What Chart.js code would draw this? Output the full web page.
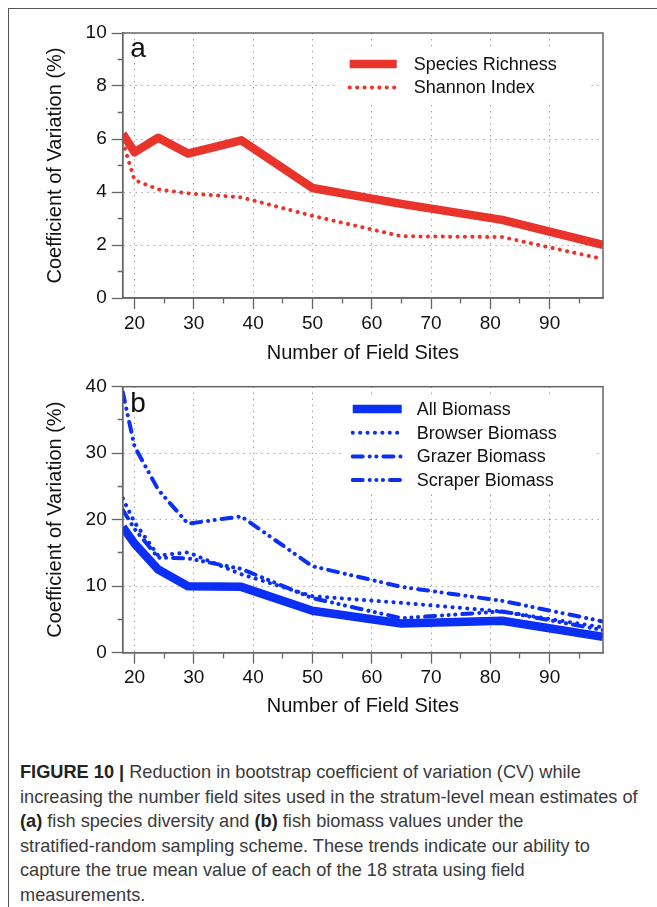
<!DOCTYPE html>
<html lang="en">
<head>
<meta charset="UTF-8">
<title>Figure 10 - bootstrap CV vs number of field sites</title>
<script src="https://cdn.jsdelivr.net/npm/chart.js@4"></script>
<style>
  * { box-sizing: border-box; margin: 0; padding: 0; }
  html, body { width: 657px; height: 907px; background: #fff; overflow: hidden; }
  body { position: relative; font-family: "Liberation Sans", Arial, sans-serif; }
  .frame { position: absolute; left: 8px; top: 8px; width: 700px; height: 960px;
           border-top: 1.5px solid #555; border-left: 1.5px solid #555; }
  .panel { position: absolute; left: 0; width: 657px; }
  #panelA { top: 0; height: 375px; }
  #panelB { top: 360px; height: 380px; }
  .caption { position: absolute; left: 20px; top: 760px; width: 640px;
             font-size: 18.2px; line-height: 24.6px; color: #3a3a3a; white-space: nowrap; }
  .caption b { color: #222; }
</style>
</head>
<body>
<div class="frame"></div>
<div class="panel" id="panelA"><canvas id="chartA"></canvas></div>
<div class="panel" id="panelB"><canvas id="chartB"></canvas></div>
<div class="caption">
  <b>FIGURE 10 |</b> Reduction in bootstrap coefficient of variation (CV) while<br>
  increasing the number field sites used in the stratum-level mean estimates of<br>
  <b>(a)</b> fish species diversity and <b>(b)</b> fish biomass values under the<br>
  stratified-random sampling scheme. These trends indicate our ability to<br>
  capture the true mean value of each of the 18 strata using field<br>
  measurements.
</div>

<script>
// ---------- Data ----------

const sites = [18, 20, 24, 29, 38, 50, 65, 82, 99];

// panel a: species diversity
const speciesRichness = [6.2, 5.5, 6.05, 5.45, 5.95, 4.15, 3.55, 2.95, 2.0];
const shannonIndex    = [5.9, 4.45, 4.1, 3.95, 3.8, 3.1, 2.33, 2.3, 1.47];

// panel b: biomass
const allBiomass     = [18.9, 16.4, 12.5, 10.0, 9.9, 6.3, 4.4, 4.8, 2.4];
const browserBiomass = [23.2, 19.6, 14.6, 15.1, 11.8, 8.5, 7.5, 6.2, 3.8];
const grazerBiomass  = [39.2, 31.0, 24.5, 19.4, 20.5, 13.0, 9.9, 7.8, 4.7];
const scraperBiomass = [21.5, 18.6, 14.3, 14.2, 12.6, 8.2, 5.2, 6.2, 3.4];

const xTicks  = [20, 25, 30, 35, 40, 45, 50, 55, 60, 65, 70, 75, 80, 85, 90, 95];
const yTicksA = [0, 1, 2, 3, 4, 5, 6, 7, 8, 9, 10];
const yTicksB = [0, 5, 10, 15, 20, 25, 30, 35, 40];

// ---------- Styles ----------

const RED  = '#e8342a';
const BLUE = '#0b2ff4';
const FONT = '"Liberation Sans", Arial, sans-serif';

const SOLID   = { borderWidth: 8.5, borderDash: [], borderCapStyle: 'butt' };
const DOTTED  = { borderWidth: 4, borderDash: [0.1, 7.3], borderCapStyle: 'round' };
const DASH2   = { borderWidth: 4, borderDash: [10, 7, 0.1, 6.5, 0.1, 7], borderCapStyle: 'round' };
const DASH3   = { borderWidth: 4, borderDash: [10, 7, 0.1, 6.5, 0.1, 6.5, 0.1, 7], borderCapStyle: 'round' };

function series(label, values, color, style) {
  return {
    label,
    data: sites.map((x, i) => ({ x, y: values[i] })),
    borderColor: color,
    backgroundColor: color,
    pointRadius: 0,
    tension: 0,
    fill: false,
    borderJoinStyle: 'round',
    clip: 0,
    ...style,
  };
}

// ---------- Plugins ----------

// box round the plot area
const frameBox = {
  id: 'frameBox',
  afterDraw(chart) {
    const { ctx, chartArea: a } = chart;
    ctx.save();
    ctx.strokeStyle = '#666';
    ctx.lineWidth = 1.5;
    ctx.strokeRect(a.left, a.top, a.right - a.left, a.bottom - a.top);
    ctx.restore();
  },
};

// panel letter and line-style key drawn inside the plot
const lineKey = {
  id: 'lineKey',
  afterDatasetsDraw(chart, args, opts) {
    const { ctx, chartArea: a } = chart;
    ctx.save();
    ctx.fillStyle = '#fff';
    ctx.fillRect(a.left + opts.box[0], a.top + opts.box[1], opts.box[2], opts.box[3]);

    ctx.fillStyle = '#111';
    ctx.font = '28px ' + FONT;
    ctx.textBaseline = 'alphabetic';
    ctx.fillText(opts.letter, a.left + 7.5, a.top + opts.letterY);

    ctx.font = '18px ' + FONT;
    ctx.textBaseline = 'middle';
    chart.data.datasets.forEach((ds, i) => {
      const y = a.top + opts.rowY + i * opts.rowGap;
      ctx.beginPath();
      ctx.strokeStyle = ds.borderColor;
      ctx.lineWidth = ds.borderWidth;
      ctx.lineCap = ds.borderCapStyle;
      ctx.setLineDash(ds.borderDash);
      ctx.moveTo(a.left + opts.lineX[0], y);
      ctx.lineTo(a.left + opts.lineX[1], y);
      ctx.stroke();
      ctx.setLineDash([]);
      ctx.fillStyle = '#111';
      ctx.fillText(ds.label, a.left + opts.textX, y + 1);
    });
    ctx.restore();
  },
};

// ---------- Chart config ----------

function buildConfig({ datasets, yMax, yTicks, yMajor, xHeight, titleGap, pad, key }) {
  const majorX = v => v % 10 === 0;
  const majorY = v => v % yMajor === 0;
  return {
    type: 'line',
    data: { datasets },
    plugins: [frameBox, lineKey],
    options: {
      responsive: true,
      maintainAspectRatio: false,
      animation: false,
      events: [],
      layout: { padding: pad },
      plugins: {
        legend: { display: false },
        tooltip: { enabled: false },
        lineKey: key,
      },
      scales: {
        x: {
          type: 'linear',
          min: 18,
          max: 99,
          afterBuildTicks: s => { s.ticks = xTicks.map(value => ({ value })); },
          afterFit: s => { s.height = xHeight; },
          ticks: {
            autoSkip: false,
            maxRotation: 0,
            padding: 3,
            color: '#111',
            font: { family: FONT, size: 19 },
            callback: v => (majorX(v) ? String(v) : ''),
          },
          grid: {
            color: c => (c.tick && majorX(c.tick.value) ? '#9a9a9a' : 'rgba(0,0,0,0)'),
            lineWidth: 1,
            tickLength: 11,
            tickColor: '#666',
            tickWidth: 1.3,
            tickBorderDash: c => (c.tick && majorX(c.tick.value) ? [] : [5, 30]),
          },
          border: { display: true, color: '#666', width: 1.5, dash: [1.3, 4.7] },
          title: {
            display: true,
            text: 'Number of Field Sites',
            color: '#111',
            font: { family: FONT, size: 20 },
            padding: { top: 0, bottom: titleGap },
          },
        },
        y: {
          type: 'linear',
          min: 0,
          max: yMax,
          afterBuildTicks: s => { s.ticks = yTicks.map(value => ({ value })); },
          afterFit: s => { s.width = 122.7; },
          ticks: {
            autoSkip: false,
            padding: 5,
            color: '#111',
            font: { family: FONT, size: 19 },
            callback: v => (majorY(v) ? String(v) : ''),
          },
          grid: {
            color: c => (c.tick && majorY(c.tick.value) && c.tick.value > 0 && c.tick.value < yMax
              ? '#9a9a9a' : 'rgba(0,0,0,0)'),
            lineWidth: 1,
            tickLength: 11,
            tickColor: '#666',
            tickWidth: 1.3,
            tickBorderDash: c => (c.tick && majorY(c.tick.value) ? [] : [0, 6, 5, 30]),
          },
          border: { display: true, color: '#666', width: 1.5, dash: [1.3, 4.7] },
          title: {
            display: true,
            text: 'Coefficient of Variation (%)',
            color: '#111',
            font: { family: FONT, size: 20 },
            padding: { top: 43, bottom: 0 },
          },
        },
      },
    },
  };
}

new Chart(document.getElementById('chartA'), buildConfig({
  datasets: [
    series('Species Richness', speciesRichness, RED, SOLID),
    series('Shannon Index', shannonIndex, RED, DOTTED),
  ],
  yMax: 10,
  yTicks: yTicksA,
  yMajor: 2,
  xHeight: 77,
  titleGap: 10,
  pad: { top: 33, right: 54, left: 0, bottom: 0 },
  key: {
    letter: 'a', letterY: 24,
    box: [217, 17, 250, 50],
    lineX: [227, 274], textX: 291,
    rowY: 31, rowGap: 23.5,
  },
}));

new Chart(document.getElementById('chartB'), buildConfig({
  datasets: [
    series('All Biomass', allBiomass, BLUE, SOLID),
    series('Browser Biomass', browserBiomass, BLUE, DOTTED),
    series('Grazer Biomass', grazerBiomass, BLUE, DASH2),
    series('Scraper Biomass', scraperBiomass, BLUE, DASH3),
  ],
  yMax: 40,
  yTicks: yTicksB,
  yMajor: 10,
  xHeight: 87.3,
  titleGap: 22,
  pad: { top: 26.7, right: 54, left: 0, bottom: 0 },
  key: {
    letter: 'b', letterY: 25,
    box: [220, 8, 250, 97],
    lineX: [230, 279], textX: 294,
    rowY: 22.3, rowGap: 23.7,
  },
}));
</script>
</body>
</html>
